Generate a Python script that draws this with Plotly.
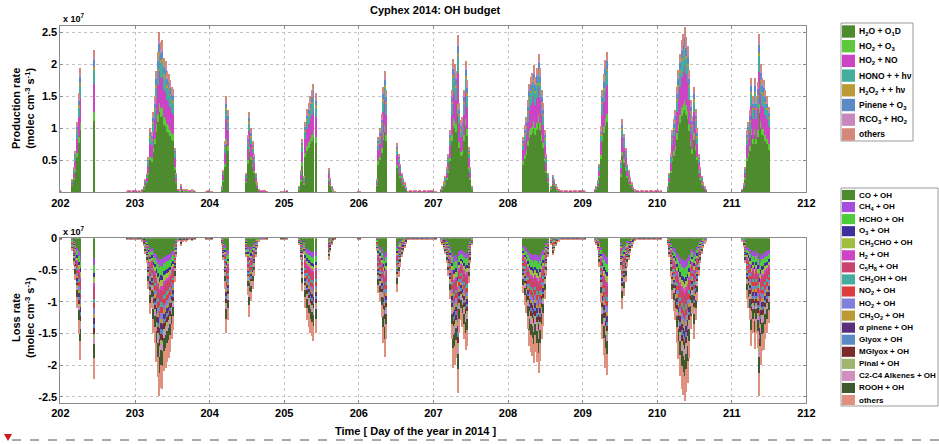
import plotly.graph_objects as go

# ---------------- data (units of 1e7 molec cm-3 s-1), half-hour slots from day 202.0 ----------------
prod_total = [
    # day 202
    0.03,0.02,0,0,0,0,0,0, 0.2,0.4,0.65,1.1,1.55,1.94,0,0, 0,0,0,0,0,0,2.23,0, 0,0,0,0,0,0,0,0, 0,0,0,0,0,0,0,0, 0,0,0,0.02,0.03,0.03,0.02,0.03,
    # day 203
    0.03,0.03,0.02,0.03,0.02,0.05,0.1,0.2, 0.3,0.55,1.0,0.95,1.25,1.5,1.9,2.2, 2.5,2.35,2.38,2.1,2.05,1.9,1.85,1.75, 1.65,1.62,0.7,0.3,0.05,0.04,0.12,0.05, 0.04,0.05,0.04,0.03,0.03,0.04,0.03,0.02, 0,0,0,0,0,0,0.02,0.03,
    # day 204
    0.03,0.02,0.02,0,0,0,0,0, 0.1,0.35,0.8,1.5,1.29,0,0,0, 0,0,0,0,0,0,0,0, 0.3,0.9,1.26,1.0,0.8,0.6,0.3,0.15, 0.05,0.03,0.03,0.03,0.03,0.02,0,0, 0,0,0,0,0,0,0.02,0.02,
    # day 205
    0.02,0.02,0.03,0,0,0,0,0, 0,0,0.1,0.35,0.84,0.25,1.1,1.3, 1.4,1.5,1.6,1.7,0,1.55,0,0, 0,0,0,0,0,0.37,0.22,0.1, 0.04,0.02,0,0,0,0,0,0, 0,0,0,0,0,0,0,0,
    # day 206
    0.02,0.02,0,0,0,0,0,0, 0,0,0,0,0.2,0.87,1.0,1.23, 1.65,1.89,1.6,0,0,0,0,0, 0,0.77,0.6,0.45,0.3,0.22,0.15,0.08, 0.02,0.03,0.03,0.02,0.03,0.03,0.02,0.03, 0.03,0.02,0.03,0.03,0.02,0.03,0.03,0.03,
    # day 207
    0.03,0.02,0.02,0,0,0.05,0.1,0.17, 0.25,0.4,0.6,0.97,1.6,2.08,2.0,1.9, 2.46,1.4,1.13,1.18,1.6,2.06,1.76,0.71, 0.4,0.1,0,0,0,0,0,0, 0,0,0,0,0,0,0,0, 0,0,0,0,0,0,0,0,
    # day 208
    0,0,0,0,0,0,0,0, 0,0,0.87,1.05,1.18,1.44,1.7,1.8, 1.86,1.99,1.8,1.95,2.17,1.94,1.6,1.39, 0.97,0.6,0.3,0,0.1,0.27,0.2,0.12, 0.07,0.05,0.03,0.03,0.02,0.03,0.03,0.02, 0.03,0.03,0.02,0.03,0.03,0.02,0.03,0.03,
    # day 209
    0.03,0.03,0.02,0,0,0,0,0, 0.05,0.1,0.19,0.45,1.03,1.6,1.85,2.07, 2.2,0,0,0,0,0,0,0, 0,0.5,1.14,0.92,0.7,0.45,0.35,0.24, 0.15,0.08,0.04,0.03,0.03,0.02,0.03,0.03, 0.02,0.03,0.03,0.02,0.03,0.03,0.02,0.03,
    # day 210
    0.03,0.03,0.02,0.03,0,0,0,0.1, 0.3,0.61,0.97,1.15,1.29,1.65,1.91,2.17, 2.38,2.48,2.59,2.43,2.28,1.91,1.44,1.2, 1.65,1.3,1.0,0.6,0.4,0.25,0.15,0.09, 0.05,0,0,0,0,0,0,0, 0,0,0,0,0,0,0,0,
    # day 211
    0,0,0,0,0,0,0,0.05, 0.14,0.4,0.97,1.1,1.29,1.78,1.5,1.78, 1.5,1.73,2.48,2.0,1.78,1.76,1.6,1.5, 1.34,0,0,0,0,0,0,0, 0,0,0,0,0,0,0,0, 0,0,0,0,0,0,0,0,
]

loss_total = [
    # day 202
    -0.03,-0.02,0,0,0,0,0,0, -0.2,-0.42,-0.66,-1.1,-1.52,-1.92,0,0, 0,0,0,0,0,0,-2.22,0, 0,0,0,0,0,0,0,0, 0,0,0,0,0,0,0,0, 0,0,0,-0.02,-0.03,-0.03,-0.02,-0.03,
    # day 203
    -0.03,-0.03,-0.02,-0.03,-0.02,-0.05,-0.12,-0.25, -0.4,-0.8,-1.2,-1.1,-1.5,-1.65,-1.95,-2.2, -2.5,-2.36,-2.38,-2.1,-2.05,-1.95,-1.9,-1.8, -1.6,-1.45,-0.7,-0.3,-0.05,-0.04,-0.12,-0.05, -0.04,-0.05,-0.04,-0.03,-0.03,-0.04,-0.03,-0.02, 0,0,0,0,0,0,-0.02,-0.03,
    # day 204
    -0.03,-0.02,-0.02,0,0,0,0,0, -0.1,-0.35,-0.8,-1.5,-1.3,0,0,0, 0,0,0,0,0,0,0,0, -0.3,-0.9,-1.24,-1.0,-0.8,-0.6,-0.3,-0.15, -0.05,-0.03,-0.03,-0.03,-0.03,-0.02,0,0, 0,0,0,0,0,0,-0.02,-0.02,
    # day 205
    -0.02,-0.02,-0.03,0,0,0,0,0, 0,0,-0.1,-0.35,-0.84,-0.25,-1.1,-1.29, -1.4,-1.5,-1.55,-1.63,0,-1.5,0,0, 0,0,0,0,0,-0.34,-0.22,-0.1, -0.04,-0.02,0,0,0,0,0,0, 0,0,0,0,0,0,0,0,
    # day 206
    -0.02,-0.02,0,0,0,0,0,0, 0,0,0,0,-0.2,-0.87,-1.0,-1.25, -1.65,-1.87,-1.6,0,0,0,0,0, 0,-0.85,-0.62,-0.45,-0.3,-0.22,-0.15,-0.08, -0.02,-0.03,-0.03,-0.02,-0.03,-0.03,-0.02,-0.03, -0.03,-0.02,-0.03,-0.03,-0.02,-0.03,-0.03,-0.03,
    # day 207
    -0.03,-0.02,-0.02,0,0,-0.05,-0.1,-0.17, -0.25,-0.4,-0.6,-0.97,-1.6,-2.05,-2.0,-1.9, -2.44,-1.5,-1.3,-1.4,-1.6,-1.76,-1.7,-0.71, -0.4,-0.1,0,0,0,0,0,0, 0,0,0,0,0,0,0,0, 0,0,0,0,0,0,0,0,
    # day 208
    0,0,0,0,0,0,0,0, 0,0,-0.87,-1.05,-1.18,-1.44,-1.7,-1.8, -1.86,-1.97,-1.8,-1.95,-2.13,-1.94,-1.6,-1.39, -0.97,-0.6,-0.3,0,-0.1,-0.27,-0.2,-0.12, -0.07,-0.05,-0.03,-0.03,-0.02,-0.03,-0.03,-0.02, -0.03,-0.03,-0.02,-0.03,-0.03,-0.02,-0.03,-0.03,
    # day 209
    -0.03,-0.03,-0.02,0,0,0,0,0, -0.05,-0.1,-0.19,-0.45,-1.03,-1.6,-1.85,-2.05, -2.16,0,0,0,0,0,0,0, 0,-0.5,-1.12,-0.92,-0.7,-0.45,-0.35,-0.24, -0.15,-0.08,-0.04,-0.03,-0.03,-0.02,-0.03,-0.03, -0.02,-0.03,-0.03,-0.02,-0.03,-0.03,-0.02,-0.03,
    # day 210
    -0.03,-0.03,-0.02,-0.03,0,0,0,-0.1, -0.3,-0.61,-0.97,-1.15,-1.29,-1.65,-1.91,-2.17, -2.38,-2.48,-2.57,-2.43,-2.28,-1.91,-1.44,-1.2, -1.6,-1.3,-1.0,-0.6,-0.4,-0.25,-0.15,-0.09, -0.05,0,0,0,0,0,0,0, 0,0,0,0,0,0,0,0,
    # day 211
    0,0,0,0,0,0,0,-0.05, -0.14,-0.4,-0.97,-1.1,-1.29,-1.7,-1.5,-1.75, -1.5,-1.73,-2.5,-2.0,-1.78,-1.76,-1.6,-1.5, -1.34,0,0,0,0,0,0,0, 0,0,0,0,0,0,0,0, 0,0,0,0,0,0,0,0,
]

prod_names = ["H<sub>2</sub>O + O<sub>1</sub>D", "HO<sub>2</sub> + O<sub>3</sub>", "HO<sub>2</sub> + NO",
              "HONO + + hν", "H<sub>2</sub>O<sub>2</sub> + + hν", "Pinene + O<sub>3</sub>",
              "RCO<sub>3</sub> + HO<sub>2</sub>", "others"]
prod_share = [0.50, 0.06, 0.20, 0.10, 0.02, 0.05, 0.02, 0.05]
prod_colors = ["#4e8a2e", "#5cc83a", "#cc44c4", "#45ad9e", "#b99a35", "#5a8bc6", "#c888bd", "#d4887a"]

loss_names = ["CO + OH", "CH<sub>4</sub> + OH", "HCHO + OH", "O<sub>3</sub> + OH", "CH<sub>3</sub>CHO + OH",
              "H<sub>2</sub> + OH", "C<sub>5</sub>H<sub>8</sub> + OH", "CH<sub>3</sub>OH + OH", "NO<sub>2</sub> + OH",
              "HO<sub>2</sub> + OH", "CH<sub>3</sub>O<sub>2</sub> + OH", "α pinene + OH", "Glyox + OH",
              "MGlyox + OH", "Pinal + OH", "C2-C4 Alkenes + OH", "ROOH + OH", "others"]
loss_share = [0.14, 0.05, 0.06, 0.03, 0.04, 0.03, 0.08, 0.03, 0.04, 0.04, 0.03, 0.04, 0.03, 0.04, 0.03, 0.04, 0.10, 0.15]
loss_colors = ["#4e8a2e", "#a64fdc", "#4ccc3c", "#3f2f9c", "#9fbf3f", "#cf44c4", "#c8446e", "#45ad9e", "#dc3c3c",
               "#7f7fdc", "#b99a35", "#5a2f7a", "#5a8bc6", "#7a2a2a", "#9db56c", "#cf8fc0", "#3e5a2c", "#e0907e"]

day_ticks = [202, 203, 204, 205, 206, 207, 208, 209, 210, 211, 212]
prod_ticks = [0.5, 1, 1.5, 2, 2.5]
loss_ticks = [-2.5, -2, -1.5, -1, -0.5, 0]

# ---------------- figure ----------------
W, H = 939, 444
def px(x): return x / W
def py(y): return 1 - y / H

slots_per_day = 48
time = [day_ticks[0] + i / slots_per_day for i in range(len(prod_total))]
bw = 0.82 / slots_per_day

fig = go.Figure()
for name, share, col in zip(prod_names, prod_share, prod_colors):
    fig.add_trace(go.Bar(x=time, y=[v * share for v in prod_total], width=bw, name=name,
                         marker=dict(color=col, line=dict(width=0)), showlegend=False,
                         xaxis="x", yaxis="y"))
for name, share, col in zip(loss_names, loss_share, loss_colors):
    fig.add_trace(go.Bar(x=time, y=[v * share for v in loss_total], width=bw, name=name,
                         marker=dict(color=col, line=dict(width=0)), showlegend=False,
                         xaxis="x2", yaxis="y2"))

FONT = "Liberation Sans, Arial, sans-serif"
axfont = dict(family=FONT, size=11, color="black", weight="bold")
common_x = dict(range=[202, 212], tickvals=day_ticks, ticktext=[str(d) for d in day_ticks],
                showgrid=True, gridcolor="#c4c4c4", griddash="dot", gridwidth=1,
                showline=True, linecolor="#8a8a8a", linewidth=1, mirror="ticks",
                ticks="inside", ticklen=3, tickcolor="#8a8a8a", tickfont=axfont, zeroline=False,
                automargin=False, domain=[px(60.4), px(806.4)])
common_y = dict(showgrid=True, gridcolor="#c4c4c4", griddash="dot", gridwidth=1,
                showline=True, linecolor="#8a8a8a", linewidth=1, mirror="ticks",
                ticks="inside", ticklen=3, tickcolor="#8a8a8a", tickfont=axfont, zeroline=False,
                automargin=False)

fig.update_layout(
    width=W, height=H, margin=dict(l=0, r=0, t=0, b=0, pad=0, autoexpand=False),
    paper_bgcolor="white", plot_bgcolor="white",
    barmode="relative", bargap=0,
    xaxis=dict(common_x, anchor="y"),
    yaxis=dict(common_y, anchor="x", domain=[py(192.3), py(25.9)], range=[0, 2.6],
               tickvals=prod_ticks, ticktext=["0.5", "1", "1.5", "2", "2.5"]),
    xaxis2=dict(common_x, anchor="y2"),
    yaxis2=dict(common_y, anchor="x2", domain=[py(403.1), py(238.3)], range=[-2.6, 0],
                tickvals=loss_ticks, ticktext=["-2.5", "-2", "-1.5", "-1", "-0.5", "0"]),
    font=dict(family=FONT),
)

ann = []
shapes = []
def text(x, y, t, size=11, xanchor="center", yanchor="middle", angle=0, color="black"):
    ann.append(dict(x=px(x), y=py(y), xref="paper", yref="paper", text=t, showarrow=False,
                    xanchor=xanchor, yanchor=yanchor, textangle=angle,
                    font=dict(family=FONT, size=size, color=color, weight="bold")))

text(435, 10, "Cyphex 2014: OH budget", size=11)
text(416, 431, "Time [ Day of the year in 2014 ]", size=11)
text(23, 109, "Production rate<br>(molec cm<sup>-3</sup> s<sup>-1</sup>)", size=11, angle=-90)
text(23, 318, "Loss rate<br>(molec cm<sup>-3</sup> s<sup>-1</sup>)", size=11, angle=-90)
text(61, 18, "x 10<sup>7</sup>", size=9, xanchor="left")
text(61, 231, "x 10<sup>7</sup>", size=9, xanchor="left")

# manual legends
def legend(names, colors, x0, x1, y_top, y_bot, first_c, step, fsize):
    shapes.append(dict(type="rect", xref="paper", yref="paper", x0=px(x0), x1=px(x1), y0=py(y_bot), y1=py(y_top),
                       line=dict(color="#9a9a9a", width=1), fillcolor="white", layer="above"))
    for i, (n, c) in enumerate(zip(names, colors)):
        cy = first_c + i * step
        shapes.append(dict(type="rect", xref="paper", yref="paper", x0=px(x0 + 1), x1=px(x0 + 14),
                           y0=py(cy + step * 0.42), y1=py(cy - step * 0.42),
                           line=dict(width=0), fillcolor=c, layer="above"))
        text(x0 + 16, cy, n, size=fsize, xanchor="left")

legend(prod_names, prod_colors, 841, 913, 23, 141, 31.5, 14.7, 8.5)
legend(loss_names, loss_colors, 841, 938, 188, 406, 195, 12.06, 8)

# screenshot footer: dashed line and red marker
shapes.append(dict(type="line", xref="paper", yref="paper", x0=px(12), x1=px(939), y0=py(440), y1=py(440),
                   line=dict(color="#555555", width=1.2, dash="dash")))
shapes.append(dict(type="path", xref="paper", yref="paper",
                   path=f"M {px(4)} {py(434)} L {px(12)} {py(434)} L {px(8)} {py(441)} Z",
                   fillcolor="#d01818", line=dict(width=0)))

fig.update_layout(annotations=ann, shapes=shapes)
# remove the default 8px page margin so the 939x444 figure fills the browser window exactly
fig.write_html("out.html", config={"displayModeBar": False},
               post_script="document.body.style.margin='0px';document.body.style.overflow='hidden';")
